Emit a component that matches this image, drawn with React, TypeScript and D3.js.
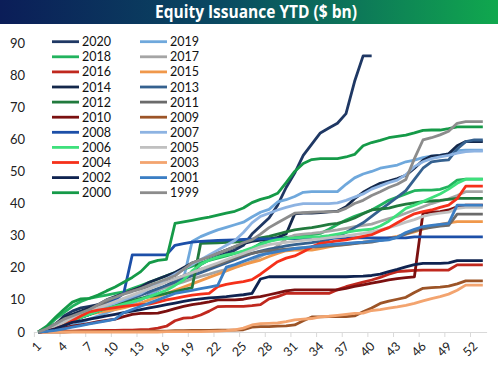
import React, { useRef, useEffect } from "react";
import * as d3 from "d3";

// weekly categories and axis labels
const weeks = d3.range(1, 54);
const weekLabels = ["1", "4", "7", "10", "13", "16", "19", "22", "25", "28", "31", "34", "37", "40", "43", "46", "49", "52"];
const yTicks = [0, 10, 20, 30, 40, 50, 60, 70, 80, 90];

const years = ["2020", "2019", "2018", "2017", "2016", "2015", "2014", "2013", "2012", "2011", "2010",
  "2009", "2008", "2007", "2006", "2005", "2004", "2003", "2002", "2001", "2000", "1999"];

const colors = ["#1f3864", "#6fa8dc", "#22b35e", "#a5a5a5", "#c0281e", "#f0984b", "#14284b", "#35618f",
  "#217a3d", "#6b6b6b", "#7b1010", "#9c5427", "#1c4fa8", "#8db3e2", "#3ee07c", "#c0c0c0", "#f5301a",
  "#f3a46f", "#0f2350", "#3b7ec4", "#159a48", "#8c8c8c"];

// cumulative issuance, $ bn, by week
const s2020 = [0, 0.5, 2, 5, 6.5, 7.5, 8, 8.5, 9, 9.3, 9.5, 9.7, 10, 11.5, 13, 14.5, 16, 17, 18.5, 21,
  22.5, 23.5, 24.5, 25.5, 27, 30.5, 33, 35.5, 39.5, 45, 49.5, 55, 58.5, 62, 63.5, 65, 68, 78, 86, 86];
const s2019 = [0, 0.2, 0.5, 1, 2, 3, 4, 5, 6, 7, 8, 9, 10, 11.5, 13, 14, 15.5, 16.5, 28.2, 29.7,
  30.8, 31.8, 32.6, 33.4, 34.2, 35.8, 37.3, 38.2, 40.5, 41.2, 42.2, 43.5, 43.7, 43.7, 43.7, 43.7, 46, 48, 49.2, 50,
  51, 51.5, 52, 53, 53.5, 54.3, 54.8, 55, 55.5, 56.5, 56.6, 56.6, 56.6];
const s2018 = [0, 1.5, 4, 6, 8, 9.5, 10.5, 11, 11.5, 12, 12.5, 13.5, 14.5, 15.5, 16.5, 17.5, 18.5, 19.5, 20.5, 21.5,
  22.3, 23, 23.7, 24.5, 25, 26, 27.6, 28.3, 29, 29.5, 29.8, 30, 30.3, 30.7, 32, 33.5, 34.9, 36, 37, 38,
  39.5, 41, 42, 43, 44, 44.2, 44.2, 44.4, 45.3, 47.3, 47.6, 47.6, 47.6];
const s2017 = [0, 0.5, 1.5, 3, 4.5, 5.5, 6.5, 7.5, 8.5, 9.5, 10.3, 11, 11.8, 12.5, 13.3, 14, 14.8, 15.6, 16.5, 17.3,
  18, 18.8, 19.5, 20.3, 21, 22, 23.5, 25, 26.8, 29, 30.2, 30.5, 30.7, 31, 31.4, 31.8, 32.3, 32.8, 33.2, 33.6,
  34.5, 35.3, 36, 37, 38, 39, 40, 40.8, 41.5, 42.5, 43.7, 43.7, 43.7];
const s2016 = [0, 0.1, 0.2, 0.3, 0.3, 0.4, 0.4, 0.5, 0.5, 0.5, 0.6, 0.6, 0.7, 0.8, 1.2, 1.8, 3.5, 4.3, 4.5, 5.3,
  6.5, 7.9, 8, 8, 8, 8.2, 8.5, 10.3, 11, 12, 12, 12, 12, 12, 12, 13.2, 14.1, 14.8, 15.5, 16.2,
  17, 18, 18.8, 19, 19.2, 19.3, 19.3, 19.3, 19.3, 20.9, 20.9, 20.9, 20.9];
const s2015 = [0, 0.5, 1.5, 2.5, 3.5, 4.5, 5.5, 6, 6.5, 7, 7.5, 8.2, 9, 10, 11, 12, 13, 14, 15, 16,
  17, 18, 19, 20, 21, 21.7, 22.4, 23.5, 24.5, 25.3, 25.5, 25.5, 25.5, 26, 26.5, 27, 27.3, 27.6, 28, 28.4,
  28.8, 29.3, 29.8, 30.5, 31.2, 32, 32.8, 33.5, 34, 34.4, 34.4, 34.4, 34.4];
const s2014 = [0, 1, 2.5, 4.5, 5.5, 6.5, 7.5, 8.5, 10, 11, 12, 13, 14, 15.5, 16.5, 17.5, 18.5, 20, 21.5, 22.5,
  23.5, 24.5, 25.5, 26.5, 27.5, 28.2, 28.6, 29, 29.5, 30.5, 36.8, 37, 37, 37.2, 37.4, 37.6, 39, 41.5, 43.5, 45,
  46.3, 47, 47.8, 48.8, 51, 53.5, 54.8, 55, 55.5, 58, 59.3, 59.3, 59.3];
const s2013 = [0, 0.5, 1.5, 2.5, 3.5, 4.5, 5.5, 6.5, 7.5, 8.5, 9.5, 10.5, 11.5, 12.5, 13.5, 14.5, 15.5, 16.5, 17.5, 18.5,
  19.5, 20.5, 21.5, 22.5, 23.5, 24.5, 25.2, 25.8, 26.3, 26.8, 27.2, 27.5, 27.8, 28.2, 28.8, 29.8, 31, 32.5, 34, 36,
  38, 40, 42, 44, 47.5, 51, 53, 53.4, 53.6, 57, 59.3, 59.8, 59.8];
const s2012 = [0, 0.5, 1.5, 2.5, 3.5, 4.5, 5.5, 6.5, 7.5, 8.3, 9, 9.8, 10.5, 11, 11.5, 12, 12.6, 13.2, 13.8, 27.6,
  27.7, 27.8, 27.9, 28, 28.2, 28.8, 29.3, 29.8, 30.5, 31.2, 31.8, 32.2, 32.5, 33, 33.5, 33.8, 34.5, 35.5, 36.8, 38,
  38.3, 38.6, 39.3, 39.8, 40.2, 40.6, 40.8, 41, 41.3, 41.6, 41.6, 41.6, 41.6];
const s2011 = [0, 1, 2, 3, 4.5, 5.5, 7, 8, 9, 10.5, 12, 12.8, 13.5, 14.2, 15, 15.8, 16.5, 17.5, 18.5, 19.5,
  20.3, 21, 22, 23, 24, 24.5, 25, 25.3, 25.6, 25.8, 26, 26.2, 26.4, 26.6, 26.8, 27, 27.2, 27.5, 27.8, 28,
  28.5, 29, 29.5, 30.5, 31.5, 32.2, 32.6, 33, 33.2, 36.7, 36.7, 36.7, 36.7];
const s2010 = [0, 0.3, 0.8, 1.3, 1.8, 2.2, 2.7, 3.2, 3.6, 4, 4.8, 5.5, 5.8, 5.8, 5.9, 6.5, 7.3, 8, 8.5, 8.9,
  9.4, 10, 10, 10, 10.2, 10.7, 11, 11.6, 12.2, 12.8, 13.1, 13.1, 13.1, 13.1, 13.1, 13.1, 13.6, 14.2, 14.7, 15.2,
  15.7, 16.2, 16.6, 16.9, 17.2, 37, 37.3, 37.5, 38, 39, 39.5, 39.5, 39.5];
const s2009 = [0, 0, 0, 0, 0.1, 0.1, 0.1, 0.1, 0.2, 0.2, 0.2, 0.2, 0.3, 0.3, 0.3, 0.3, 0.4, 0.4, 0.5, 0.5,
  0.5, 0.6, 0.6, 0.6, 0.7, 1.5, 1.7, 1.7, 1.8, 1.9, 2.2, 3.5, 4.7, 4.7, 4.8, 4.8, 4.8, 5, 6.3, 7.5,
  8.9, 9.6, 10.2, 10.8, 12.3, 13.6, 13.8, 14, 14.3, 15, 15.9, 15.9, 15.9];
const s2008 = [0, 0.5, 1.5, 2.5, 3.5, 4.5, 5.5, 7, 8.5, 10, 12, 24, 24, 24, 24, 24, 27, 27.5, 28, 28.2,
  28.4, 28.5, 28.6, 28.7, 28.8, 28.9, 29, 29, 29.1, 29.1, 29.1, 29.1, 29.1, 29.1, 29.1, 29.3, 29.3, 29.3, 29.3, 29.3,
  29.3, 29.3, 29.3, 29.3, 29.6, 29.6, 29.6, 29.6, 29.6, 29.6, 29.6, 29.6, 29.6];
const s2007 = [0, 1, 2, 3, 4, 5, 6, 7, 8, 9, 10, 11, 12, 13.5, 15, 16.5, 18, 19.5, 21, 22.5,
  24, 25.5, 27, 28.5, 31, 34, 36, 37, 38, 38.8, 39.5, 40, 40, 40, 40, 40.2, 41, 42, 43, 44.5,
  45.5, 46.5, 47.3, 49, 51.5, 53, 54, 54.5, 55, 55.7, 56.2, 56.3, 56.3];
const s2006 = [0, 0.5, 1.5, 2.5, 3.5, 4.5, 5.5, 6.5, 7.3, 8, 8.7, 9.4, 10.2, 11, 12, 13, 14.5, 16.2, 19, 21,
  22.4, 23.3, 24, 24.5, 25.3, 26.2, 27.2, 28.2, 28.8, 29.1, 29.3, 29.5, 29.6, 29.7, 30, 30.5, 31, 31.5, 31.8, 32,
  33, 34.5, 36.5, 38.5, 39.5, 40.6, 41.8, 43, 44.5, 46.3, 47.6, 47.6, 47.6];
const s2005 = [0, 0.5, 1.5, 3, 4.5, 5.5, 6.5, 7.5, 8.5, 9.5, 10.5, 11.5, 12.5, 13.5, 14.5, 15.5, 16.5, 17.5, 18.5, 19.5,
  20.5, 21.5, 22.5, 23.5, 24.5, 25.5, 26.5, 27.2, 27.6, 27.9, 28.2, 28.5, 28.8, 29, 29.3, 29.6, 29.9, 30.3, 30.7, 31.2,
  31.8, 32.5, 33.3, 34.2, 35, 36, 36.6, 37, 37.3, 38.5, 38.8, 38.8, 38.8];
const s2004 = [0, 0.3, 1, 2, 3.5, 5, 6.3, 6.8, 7.2, 7.6, 8, 8.3, 8.5, 8.7, 9.3, 10, 10.5, 11, 11.5, 11.8,
  12, 14.1, 14.8, 15.3, 15.7, 16.3, 18, 20, 21.9, 23, 23.7, 25, 26.5, 27.6, 28, 28.4, 28.7, 29.2, 29.8, 30.3,
  31.5, 32.5, 34, 35.5, 36.8, 37.5, 38, 38.8, 39.5, 41.5, 45.4, 45.4, 45.4];
const s2003 = [0, 0, 0, 0, 0, 0, 0, 0, 0, 0, 0, 0, 0, 0, 0, 0.1, 0.1, 0.1, 0.1, 0.1,
  0.2, 0.3, 0.4, 0.7, 1.2, 2.2, 2.6, 2.7, 2.8, 3.2, 3.8, 4, 4.2, 4.7, 4.9, 5.2, 5.5, 5.8, 5.9, 6.7,
  7, 7.4, 7.8, 8.3, 8.9, 9.7, 10.4, 11, 11.8, 13, 14.6, 14.6, 14.6];
const s2002 = [0, 0.3, 1, 2, 3, 3.5, 4, 4.5, 5, 5.5, 6, 6.5, 7, 7.5, 8, 8.5, 9, 9.5, 10, 10.3,
  10.6, 10.8, 11, 11.3, 11.6, 12, 16.5, 17.2, 17.2, 17.2, 17.2, 17.2, 17.2, 17.2, 17.2, 17.2, 17.2, 17.3, 17.4, 17.6,
  18, 18.8, 19.5, 20.3, 21, 21.4, 21.4, 21.4, 21.5, 22.2, 22.2, 22.2, 22.2];
const s2001 = [0, 0.2, 0.5, 1, 1.5, 2, 2.5, 3, 3.5, 4, 6, 7, 8, 9, 10, 11, 12, 12.5, 13, 13.5,
  14, 14.5, 20.2, 21, 22, 23, 24, 24.5, 25, 25.5, 26, 26.3, 26.6, 26.9, 27.2, 27.4, 27.6, 27.8, 28, 28.3,
  28.5, 28.7, 29.5, 31, 32, 32.8, 33.2, 33.5, 33.8, 39.5, 39.5, 39.5, 39.5];
const s2000 = [0, 1.8, 4.5, 7, 9.3, 10.3, 10.5, 11.5, 12.8, 14, 15.5, 17, 18.8, 21.5, 22.3, 22.6, 33.8, 34.3, 34.8, 35.3,
  35.8, 36.4, 37, 37.6, 38.6, 40.3, 41.3, 42, 43.2, 46.5, 50, 52.5, 53.7, 54, 54, 54, 54.5, 55.3, 58, 59,
  59.7, 60.5, 60.9, 61.3, 62, 62.8, 62.9, 62.9, 63.3, 63.9, 63.9, 63.9, 63.9];
const s1999 = [0, 1, 2.5, 4, 5, 6, 7, 8.5, 10, 10.8, 11.8, 12.6, 13.5, 14.6, 15.5, 16.5, 17.5, 19.5, 21.5, 22.5,
  23.5, 24.5, 25.5, 26.6, 27.8, 28.7, 30.5, 32.5, 34, 35.5, 37, 37.2, 37.3, 37.4, 37.5, 37.5, 38.5, 40, 41, 42.5,
  43.7, 45, 46, 47.5, 54, 59.8, 60.5, 61.4, 62.5, 65, 65.5, 65.5, 65.5];

const seriesValues = [s2020, s2019, s2018, s2017, s2016, s2015, s2014, s2013, s2012, s2011, s2010,
  s2009, s2008, s2007, s2006, s2005, s2004, s2003, s2002, s2001, s2000, s1999];

const W = 498;
const H = 371;
const FONT = "Lato, 'Liberation Sans', sans-serif";

export default function App() {
  const svgRef = useRef<SVGSVGElement>(null);

  useEffect(() => {
    if (!svgRef.current) return;
    const svg = d3.select(svgRef.current);
    svg.selectAll("*").remove();

    // Title banner
    const defs = svg.append("defs");
    const grad = defs.append("linearGradient").attr("id", "titleGrad")
      .attr("x1", "0%").attr("x2", "100%").attr("y1", "0%").attr("y2", "0%");
    grad.append("stop").attr("offset", "0%").attr("stop-color", "#0b1d58");
    grad.append("stop").attr("offset", "45%").attr("stop-color", "#0a4a62");
    grad.append("stop").attr("offset", "100%").attr("stop-color", "#10a84e");

    svg.append("rect").attr("x", 0).attr("y", 0).attr("width", W).attr("height", 24)
      .attr("fill", "url(#titleGrad)");
    svg.append("text")
      .attr("x", 256).attr("y", 18)
      .attr("text-anchor", "middle")
      .attr("fill", "white")
      .attr("font-family", "'Open Sans', sans-serif")
      .attr("font-weight", 700)
      .attr("font-size", 17)
      .attr("textLength", 202)
      .attr("lengthAdjust", "spacingAndGlyphs")
      .text("Equity Issuance YTD ($ bn)");

    const x = d3.scaleBand<number>().domain(weeks).range([33.9, 487.1]).paddingInner(0);
    const xc = (w: number) => (x(w) ?? 0) + x.bandwidth() / 2;
    const y = d3.scaleLinear().domain([0, 90]).range([332, 43]);

    // y labels
    svg.append("g").selectAll("text")
      .data(yTicks)
      .enter()
      .append("text")
      .attr("x", 25)
      .attr("y", d => y(d))
      .attr("dy", "0.35em")
      .attr("text-anchor", "end")
      .attr("font-family", FONT)
      .attr("font-size", 13)
      .attr("fill", "#222")
      .text(d => d);

    // x axis
    const axis = svg.append("g");
    axis.append("line")
      .attr("x1", 33.9).attr("x2", 487.1)
      .attr("y1", 332.5).attr("y2", 332.5)
      .attr("stroke", "#d9d9d9").attr("stroke-width", 1);
    axis.selectAll(".tick")
      .data(weekLabels)
      .enter()
      .append("line")
      .attr("x1", d => (x(+d) ?? 0) + 0.5)
      .attr("x2", d => (x(+d) ?? 0) + 0.5)
      .attr("y1", 332.5).attr("y2", 337)
      .attr("stroke", "#d9d9d9");
    axis.selectAll(".lbl")
      .data(weekLabels)
      .enter()
      .append("text")
      .attr("transform", d => `translate(${xc(+d) + 4},${347}) rotate(-45)`)
      .attr("text-anchor", "end")
      .attr("font-family", FONT)
      .attr("font-size", 12.5)
      .attr("fill", "#222")
      .text(d => d);

    // lines
    const line = d3.line<number>()
      .x((d, i) => xc(weeks[i]))
      .y(d => y(d));

    svg.append("g").selectAll("path")
      .data(seriesValues)
      .enter()
      .append("path")
      .attr("d", d => line(d) || "")
      .attr("fill", "none")
      .attr("stroke", (d, i) => colors[i])
      .attr("stroke-width", 2.8)
      .attr("stroke-linejoin", "round");

    // legend, two columns
    const legend = svg.append("g").selectAll("g")
      .data(years)
      .enter()
      .append("g")
      .attr("transform", (d, i) => `translate(${i % 2 === 0 ? 52 : 140}, ${41.7 + Math.floor(i / 2) * 15.1})`);
    legend.append("line")
      .attr("x1", 0).attr("x2", 27)
      .attr("y1", 0).attr("y2", 0)
      .attr("stroke", (d, i) => colors[i])
      .attr("stroke-width", 2.8);
    legend.append("text")
      .attr("x", 30)
      .attr("y", 0)
      .attr("dy", "0.36em")
      .attr("font-family", FONT)
      .attr("font-size", 12.5)
      .attr("fill", "#111")
      .text(d => d);
  }, []);

  return (
    <div style={{ position: "absolute", left: 0, top: 0 }}>
      <svg ref={svgRef} width={W} height={H} style={{ display: "block", background: "white" }} />
    </div>
  );
}
